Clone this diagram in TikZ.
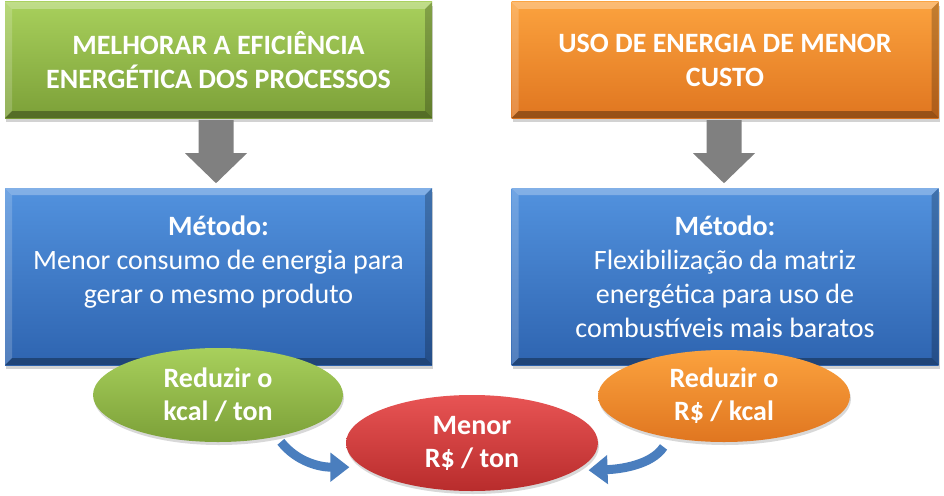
\documentclass[tikz,border=0pt]{standalone}
\usepackage{fontspec}
\setmainfont{Carlito}
\usetikzlibrary{shapes.geometric,shadows,arrows.meta,calc}
\definecolor{greenT}{RGB}{168,208,92}
\definecolor{greenB}{RGB}{124,160,56}
\definecolor{orangeT}{RGB}{251,162,62}
\definecolor{orangeB}{RGB}{224,118,32}
\definecolor{blueT}{RGB}{82,146,222}
\definecolor{blueB}{RGB}{46,100,176}
\definecolor{redT}{RGB}{232,84,84}
\definecolor{redB}{RGB}{184,44,44}
\definecolor{arrowgray}{RGB}{128,128,128}
\definecolor{curveblue}{RGB}{74,126,190}
\begin{document}
\begin{tikzpicture}[x=1pt,y=-1pt,
  bevel/.style={path picture={
    \def\pb{path picture bounding box}
    \fill[white,opacity=0.28] (\pb.north west) -- (\pb.north east) -- ([xshift=-7pt,yshift=-7pt]\pb.north east) -- ([xshift=7pt,yshift=-7pt]\pb.north west) -- cycle;
    \fill[white,opacity=0.18] (\pb.north west) -- (\pb.south west) -- ([xshift=7pt,yshift=7pt]\pb.south west) -- ([xshift=7pt,yshift=-7pt]\pb.north west) -- cycle;
    \fill[black,opacity=0.22] (\pb.north east) -- (\pb.south east) -- ([xshift=-7pt,yshift=7pt]\pb.south east) -- ([xshift=-7pt,yshift=-7pt]\pb.north east) -- cycle;
    \fill[black,opacity=0.32] (\pb.south west) -- (\pb.south east) -- ([xshift=-7pt,yshift=7pt]\pb.south east) -- ([xshift=7pt,yshift=7pt]\pb.south west) -- cycle;
  }},
  boxbase/.style={rectangle, inner sep=0pt, draw=none, minimum width=427pt,
    drop shadow={opacity=0.35, shadow xshift=1pt, shadow yshift=-4pt}, bevel},
  titlebox/.style={boxbase, minimum height=116pt, text=white, align=center,
    font=\fontsize{28}{34}\selectfont\bfseries},
  methodbox/.style={boxbase, minimum height=177pt, top color=blueT, bottom color=blueB},
  methodtext/.style={anchor=north, inner sep=0pt, text=white, align=center,
    font=\fontsize{28}{34}\selectfont},
  oval/.style={ellipse, inner sep=0pt, draw=none, text=white, align=center,
    font=\fontsize{28}{33}\selectfont\bfseries,
    drop shadow={opacity=0.3, shadow xshift=1pt, shadow yshift=-3pt}},
  curvearrow/.style={draw=curveblue, line width=9pt,
    -{Triangle[length=19pt,width=28pt]}},
]
\useasboundingbox (0,0) rectangle (944,495);
\fill[white] (0,0) rectangle (944,495);

% top boxes
\node[titlebox, top color=greenT, bottom color=greenB] (g) at (218.5,60)
  {MELHORAR A EFICIÊNCIA\\ENERGÉTICA DOS PROCESSOS};
\node[titlebox, top color=orangeT, bottom color=orangeB] (o) at (725,60)
  {USO DE ENERGIA DE MENOR\\CUSTO};

% method boxes
\node[methodbox] (m1) at (218.5,276.5) {};
\node[methodbox] (m2) at (725,276.5) {};
\node[methodtext] (m1t) at ([yshift=-28pt]m1.north)
  {\textbf{Método:}\\Menor consumo de energia para\\gerar o mesmo produto};
\node[methodtext] (m2t) at ([yshift=-28pt]m2.north)
  {\textbf{Método:}\\Flexibilização da matriz\\energética para uso de\\combustíveis mais baratos};

% gray block arrows
\fill[arrowgray] ([xshift=-20pt,yshift=-2pt]g.south) -- ++(35,0) -- ++(0,33) -- ++(13.5,0)
  -- ++(-31,30) -- ++(-31,-30) -- ++(13.5,0) -- cycle;
\fill[arrowgray] ([xshift=-18.5pt,yshift=-2pt]o.south) -- ++(35,0) -- ++(0,33) -- ++(13.5,0)
  -- ++(-31,30) -- ++(-31,-30) -- ++(13.5,0) -- cycle;

% ellipses
\node[oval, minimum width=250pt, minimum height=94pt, top color=greenT, bottom color=greenB] (ge) at (218,395)
  {Reduzir o\\kcal / ton};
\node[oval, minimum width=252pt, minimum height=92pt, top color=orangeT, bottom color=orangeB] (oe) at (724,396)
  {Reduzir o\\R\$ / kcal};
\node[oval, minimum width=252pt, minimum height=96pt, top color=redT, bottom color=redB] (re) at (472,443)
  {Menor\\R\$ / ton};

% curved arrows
\draw[curvearrow] ([yshift=-6pt]ge.-33) .. controls +(16,20) and +(-30,0) .. ([xshift=-8pt,yshift=-4pt]re.190);
\draw[curvearrow] ([xshift=-2pt,yshift=-10pt]oe.-145) .. controls +(-12,18) and +(32,-1) .. ([xshift=2pt,yshift=-7pt]re.-10);
\end{tikzpicture}
\end{document}
